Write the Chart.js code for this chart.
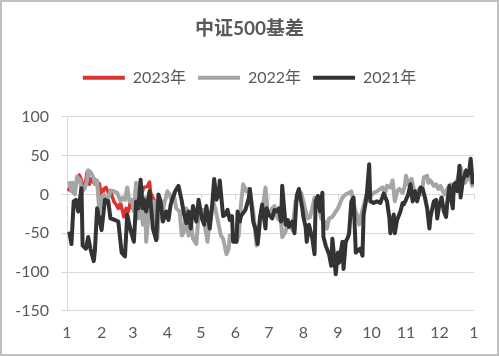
<!DOCTYPE html>
<html>
<head>
<meta charset="utf-8">
<script src="https://cdn.jsdelivr.net/npm/chart.js@4"></script>
<style>
html,body{margin:0;padding:0;background:#fff;}
#wrap{width:499px;height:356px;position:relative;}
</style>
</head>
<body>
<div id="wrap"><canvas id="c" width="499" height="356"></canvas></div>
<script>
const titleText = '中证500基差';
const seriesNames = ['2023年', '2022年', '2021年'];
const seriesColors = ['#d93431', '#a5a5a5', '#333333'];
const monthStartDays = [0, 31, 59, 90, 120, 151, 181, 212, 243, 273, 304, 334, 365];
const monthLabels = ['1','2','3','4','5','6','7','8','9','10','11','12','1'];
const yTicks = [-150, -100, -50, 0, 50, 100];

const days2023 = [1,2,4,6,8,11,13,15,16,18,20,21,24,25,27,29,31,33,35,37,39,42,44,46,48,51,53,55,57,59,61,63,65,67,69,72,74,75,77,79];
const vals2023 = [4,7,13,2,13,25,18,7,9,29,13,20,15,18,13,14,-4,7,9,2,4,-9,-13,-18,-11,-29,-18,-22,-9,-18,-7,-4,-9,2,9,10,16,2,-4,-10];

const days2022 = [2,4,5,7,9,12,13,16,18,19,21,24,25,27,29,31,33,36,39,42,45,48,50,52,54,56,58,60,62,64,66,68,70,71,74,76,78,81,83,85,87,90,92,94,96,98,101,103,105,107,109,111,113,116,118,119,122,124,126,128,131,133,136,138,140,143,145,146,149,152,154,156,158,161,163,164,167,170,172,174,176,178,180,182,184,186,189,192,193,196,198,200,202,205,208,210,212,214,216,218,220,222,225,228,231,233,235,238,241,243,245,247,250,253,255,258,260,262,264,267,269,272,275,278,281,283,285,287,290,292,294,296,298,301,303,304,306,309,311,313,316,318,320,323,324,326,329,331,333,335,337,339,341,344,346,348,350,353,355,357,359,361,364];
const vals2022 = [17,4,15,0,23,18,2,8,18,31,29,21,13,18,-22,-4,0,-9,5,4,2,-9,-4,-7,9,-9,-7,-22,15,-31,-9,-39,-4,-61,-13,-22,-9,-57,-9,-31,-13,4,0,-9,-2,-18,-22,-53,-48,-18,-53,-35,-57,-64,-26,-31,-20,-44,-61,-29,-9,-18,-39,-53,-57,-77,-70,-53,-57,-61,-53,-13,13,4,7,4,-22,-66,-53,-22,-13,9,-22,-26,-18,-15,-31,-35,-55,-48,-35,-39,-46,-9,-4,2,-9,-22,-31,-29,-18,-4,-9,-31,-35,-44,-31,-29,-22,-18,-11,-4,0,2,4,-18,-26,-39,-26,-9,0,-2,2,4,7,9,0,11,9,18,-9,4,7,2,11,24,13,20,7,2,7,0,22,24,15,18,11,13,7,11,4,0,7,13,9,15,18,35,26,15,20,24,9];

const days2021 = [2,4,6,8,10,13,14,17,19,21,24,25,27,29,31,34,37,39,43,46,49,52,54,57,60,62,64,66,68,69,71,74,76,77,80,82,84,86,89,91,93,95,97,100,103,105,107,109,111,113,116,118,121,123,125,128,130,132,134,136,137,140,142,144,146,148,149,152,153,155,156,160,163,164,167,169,171,173,175,178,179,181,184,186,188,190,192,193,196,198,199,202,204,206,208,211,212,214,215,217,220,222,223,225,227,229,230,232,235,237,238,241,243,244,247,248,250,252,253,255,257,259,261,263,265,266,268,269,271,272,275,278,281,284,287,289,290,293,294,296,299,301,302,304,306,308,310,312,314,317,319,321,323,325,326,329,331,332,334,336,338,340,341,343,344,346,347,349,350,352,353,355,358,359,361,362,364];
const vals2021 = [-48,-64,-9,-7,-22,8,-66,-70,-55,-70,-86,-73,-18,-31,-46,-7,-9,-31,-33,-35,-75,-80,-26,-46,-61,-9,-18,19,-18,-7,-22,4,-26,-44,-59,0,-9,-35,-22,-33,-13,-4,4,11,-9,-26,-37,-22,-44,-15,-35,-7,-31,-39,-15,-44,-18,20,-7,0,18,-28,-26,-20,-33,-28,-61,-61,-22,-35,-28,-20,-5,7,-35,-44,-64,-31,-13,-44,-18,-26,-31,-20,-22,-18,-35,11,-39,-33,-42,-35,-50,-2,7,-18,-29,-42,-61,-39,-57,-77,-9,-2,-22,2,-55,-66,-77,-92,-57,-103,-75,-88,-61,-96,-61,-55,-50,-9,-4,-75,-72,-70,-79,-26,-9,2,39,-9,-11,-9,-11,1,-9,-29,-50,-26,-50,-33,-22,-11,-13,-7,0,13,-9,4,-9,9,7,-4,-18,-44,-29,-9,-7,-31,-13,-4,-22,-29,-11,11,-2,-18,13,15,4,37,-4,18,31,24,33,46,13];

function toPoints(xs, ys){ return xs.map((d,i)=>({x:d, y:ys[i]})); }

const fontFamily = "Lato, 'Noto Sans CJK SC', sans-serif";
const textColor = '#595959';
const gridColor = '#d9d9d9';

const frame = {
  id: 'frame',
  afterDraw(chart){
    const ctx = chart.ctx;
    ctx.save();
    ctx.strokeStyle = '#bfbfbf';
    ctx.lineWidth = 2;
    ctx.strokeRect(1, 1, chart.width - 2, chart.height - 2);
    ctx.restore();
  }
};

const zeroTicks = {
  id: 'zeroTicks',
  beforeDatasetsDraw(chart){
    const x = chart.scales.x, y = chart.scales.y;
    const y0 = y.getPixelForValue(0);
    const ctx = chart.ctx;
    ctx.save();
    ctx.strokeStyle = gridColor;
    ctx.lineWidth = 1;
    ctx.beginPath();
    monthStartDays.forEach(d => {
      const px = Math.round(x.getPixelForValue(d)) + 0.5;
      ctx.moveTo(px, y0);
      ctx.lineTo(px, y0 + 5);
    });
    ctx.stroke();
    ctx.restore();
  }
};

const legendSpacer = {
  id: 'legendSpacer',
  beforeInit(chart){
    const origFit = chart.legend.fit;
    chart.legend.fit = function(){
      origFit.call(this);
      this.height += 21;
    };
  }
};

const datasets = [
  {label: seriesNames[0], data: toPoints(days2023, vals2023), borderColor: seriesColors[0], backgroundColor: seriesColors[0], borderWidth: 3.5, order: 3},
  {label: seriesNames[1], data: toPoints(days2022, vals2022), borderColor: seriesColors[1], backgroundColor: seriesColors[1], borderWidth: 4, order: 2},
  {label: seriesNames[2], data: toPoints(days2021, vals2021), borderColor: seriesColors[2], backgroundColor: seriesColors[2], borderWidth: 4, order: 1}
];
datasets.forEach(d => { d.pointRadius = 0; d.tension = 0; d.borderJoinStyle = 'round'; d.fill = false; });

new Chart(document.getElementById('c'), {
  type: 'line',
  data: {datasets},
  options: {
    responsive: false,
    animation: false,
    layout: {padding: {left: 0, right: 0, top: 0, bottom: 2}},
    plugins: {
      title: {display: true, text: titleText, color: textColor, font: {family: fontFamily, size: 19, weight: 'bold'}, padding: {top: 17, bottom: 18}},
      legend: {
        display: true,
        labels: {color: textColor, font: {family: fontFamily, size: 16}, boxWidth: 42, boxHeight: 4, padding: 12,
          sort: (a, b) => a.datasetIndex - b.datasetIndex,
          generateLabels(chart){
            return Chart.defaults.plugins.legend.labels.generateLabels(chart).map(item => Object.assign(item, {lineWidth: 0, strokeStyle: 'rgba(0,0,0,0)'}));
          }}
      },
      tooltip: {enabled: false}
    },
    scales: {
      x: {
        type: 'linear', min: 0, max: 365,
        grid: {display: false, drawTicks: false},
        border: {display: false},
        afterBuildTicks(scale){ scale.ticks = monthStartDays.map(v => ({value: v})); },
        ticks: {color: textColor, font: {family: fontFamily, size: 16}, padding: 12, maxRotation: 0, autoSkip: false,
          callback(value, index){ return monthLabels[index]; }}
      },
      y: {
        min: -150, max: 100,
        afterFit(scale){ scale.width = 67; },
        afterBuildTicks(scale){ scale.ticks = yTicks.map(v => ({value: v})); },
        grid: {color: gridColor, lineWidth: 1, tickLength: 6},
        border: {display: true, color: gridColor},
        ticks: {color: textColor, font: {family: fontFamily, size: 16}, padding: 12}
      },
      yRight: {
        position: 'right',
        display: true,
        afterFit(scale){ scale.width = 25; },
        grid: {display: false, drawTicks: false},
        border: {display: false},
        ticks: {display: false}
      }
    }
  },
  plugins: [frame, zeroTicks, legendSpacer]
});
</script>
</body>
</html>
